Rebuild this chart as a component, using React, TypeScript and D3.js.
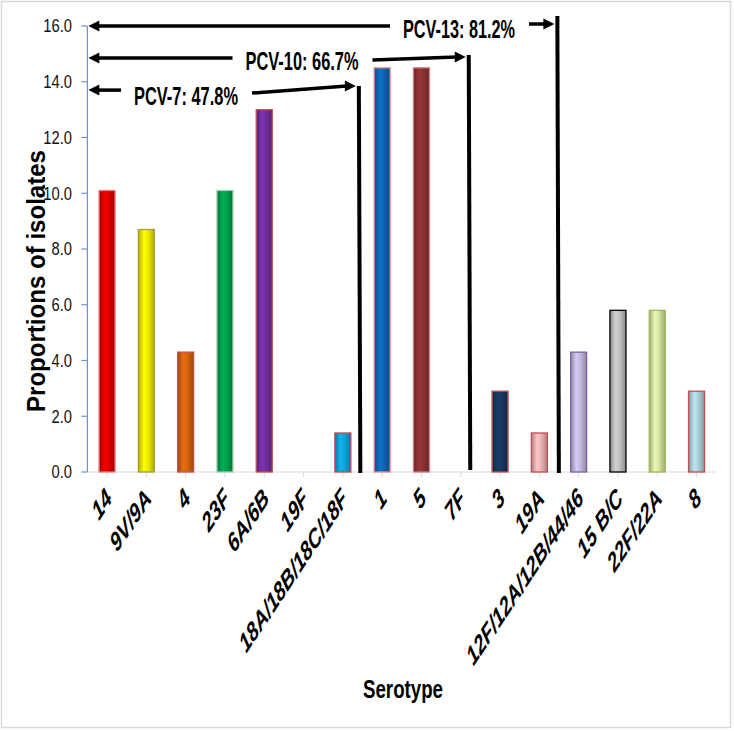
import React from 'react';
import * as d3 from 'd3';

const categories = ["14", "9V/9A", "4", "23F", "6A/6B", "19F", "18A/18B/18C/18F", "1", "5", "7F", "3", "19A", "12F/12A/12B/44/46", "15 B/C", "22F/22A", "8"];
const proportions = [10.1, 8.7, 4.3, 10.1, 13.0, 0, 1.4, 14.5, 14.5, 0, 2.9, 1.4, 4.3, 5.8, 5.8, 2.9];
const barColors = ["#e00000", "#f0ec00", "#d8640e", "#00a04c", "#7030a0", "#888888", "#10a4dc", "#0b66b4", "#8c3232", "#888888", "#17375e", "#e8b4b4", "#c4b8e0", "#c0c0c0", "#d6e6a4", "#acd2dc"];
const barBorders = ["#e88080", "#a8a040", "#c0504d", "#a0d0b0", "#c0504d", "#c0504d", "#c0504d", "#e89090", "#d08080", "#c0504d", "#c0504d", "#c0504d", "#8064a2", "#000000", "#9bbb59", "#c0504d"];
const yTicks = [0, 2, 4, 6, 8, 10, 12, 14, 16];

const pcvLabels = ["PCV-7: 47.8%", "PCV-10: 66.7%", "PCV-13: 81.2%"];
const pcvLevels = [13.7, 14.85, 16.0];
const pcvLastCategory = ["18A/18B/18C/18F", "7F", "19A"];

// layout of the annotations (pixels)
const pcvLineOffset = [16, 8, 18];
const pcvTextCenter = [186, 302, 459];
const pcvTextWidth = [104, 113, 112];
const pcvTextDy = [6, 3, 3];
const pcvRightStartDy = [3, 2, -2];
const pcvRightEndDy = [-4, -1, -2];
const pcvVertTop = [86, 55, 16];
const pcvVertBottom = [473, 470, 473];

const W = 734;
const H = 731;
const x0 = 87.4;
const x1 = 716.2;
const yTop = 26;
const yBottom = 472;

export default function App() {
  const x = d3.scaleBand<string>().domain(categories).range([x0, x1]).padding(0);
  const y = d3.scaleLinear().domain([0, 16]).range([yBottom, yTop]);
  const bw = 16;
  const cx = (c: string) => (x(c) as number) + x.bandwidth() / 2;
  const k = 1.5;

  const arrowHead = (tx: number, ty: number, dir: number) => {
    const len = 11, half = 5.5;
    return `${tx},${ty} ${tx - dir * len},${ty - half} ${tx - dir * len},${ty + half}`;
  };

  return (
    <svg width={W} height={H} style={{ position: 'absolute', left: 0, top: 0, background: '#fff' }} fontFamily="'Liberation Sans', Arial, sans-serif">
      <defs>
        {categories.map((c, i) => {
          const base = d3.color(barColors[i])!;
          return (
            <linearGradient key={c} id={`g${i}`} x1="0" x2="1" y1="0" y2="0">
              <stop offset="0%" stopColor={base.darker(0.9).formatHex()} />
              <stop offset="35%" stopColor={base.brighter(0.25).formatHex()} />
              <stop offset="60%" stopColor={base.formatHex()} />
              <stop offset="100%" stopColor={base.darker(0.9).formatHex()} />
            </linearGradient>
          );
        })}
      </defs>
      <rect x={1.5} y={1.5} width={729} height={726} fill="#fff" stroke="#d9d9d9" strokeWidth={1.5} />

      {/* x axis */}
      <line x1={x0} x2={x1} y1={yBottom} y2={yBottom} stroke="#d9d9d9" strokeWidth={1.2} />
      {categories.map((c) => (
        <line key={c} x1={cx(c)} x2={cx(c)} y1={yBottom} y2={yBottom + 5} stroke="#d9d9d9" />
      ))}

      {/* bars */}
      {categories.map((c, i) => proportions[i] > 0 && (
        <rect key={c} x={cx(c) - bw / 2} y={y(proportions[i])} width={bw} height={yBottom - y(proportions[i])}
          fill={`url(#g${i})`} stroke={barBorders[i]} strokeWidth={1.3} />
      ))}

      {/* y axis */}
      <line x1={x0} x2={x0} y1={yTop} y2={yBottom} stroke="#6f93c8" strokeWidth={1.2} />
      {yTicks.map((t) => (
        <g key={t}>
          <line x1={x0 - 6} x2={x0} y1={y(t)} y2={y(t)} stroke="#6f93c8" strokeWidth={1.2} />
          <text transform={`translate(72,${y(t)}) scale(0.82,1)`} textAnchor="end" dy="0.36em" fontSize={18} fill="#111">{t.toFixed(1)}</text>
        </g>
      ))}

      {/* x labels */}
      {categories.map((c) => (
        <text key={c} transform={`translate(${cx(c) + 6},${500}) scale(1,${k}) rotate(-45)`} textAnchor="end"
          fontSize={18} fontWeight="bold" fontStyle="italic" fill="#000">{c}</text>
      ))}

      {/* axis titles */}
      <text transform={`translate(45,${281}) rotate(-90)`} textAnchor="middle" fontSize={25} fontWeight="bold" fill="#000"
        textLength={262} lengthAdjust="spacingAndGlyphs">Proportions of isolates</text>
      <text transform={`translate(403,698) scale(1,1.2)`} textAnchor="middle" fontSize={21} fontWeight="bold" fill="#000"
        textLength={80} lengthAdjust="spacingAndGlyphs">Serotype</text>

      {/* PCV annotations */}
      {pcvLabels.map((lab, i) => {
        const ly = y(pcvLevels[i]);
        const vx = cx(pcvLastCategory[i]) + pcvLineOffset[i];
        const leftEnd = pcvTextCenter[i] - pcvTextWidth[i] / 2 - 13;
        const rightStart = pcvTextCenter[i] + pcvTextWidth[i] / 2 + 14;
        const rEndX = vx - 3;
        const rEndY = ly + pcvRightEndDy[i];
        return (
          <g key={lab}>
            <line x1={x0 + 9} x2={leftEnd} y1={ly} y2={ly} stroke="#000" strokeWidth={3.5} />
            <polygon points={arrowHead(x0 + 1, ly, -1)} fill="#000" />
            <line x1={rightStart} y1={ly + pcvRightStartDy[i]} x2={rEndX - 9} y2={rEndY} stroke="#000" strokeWidth={3.5} />
            <polygon points={arrowHead(rEndX, rEndY, 1)} fill="#000" />
            <line x1={vx} x2={vx + 1.5} y1={pcvVertTop[i]} y2={pcvVertBottom[i]} stroke="#000" strokeWidth={4} />
            <text x={pcvTextCenter[i]} y={ly + pcvTextDy[i]} dy="0.36em" textAnchor="middle" fontSize={25} fontWeight="bold"
              textLength={pcvTextWidth[i]} lengthAdjust="spacingAndGlyphs" fill="#000">{lab}</text>
          </g>
        );
      })}
    </svg>
  );
}
